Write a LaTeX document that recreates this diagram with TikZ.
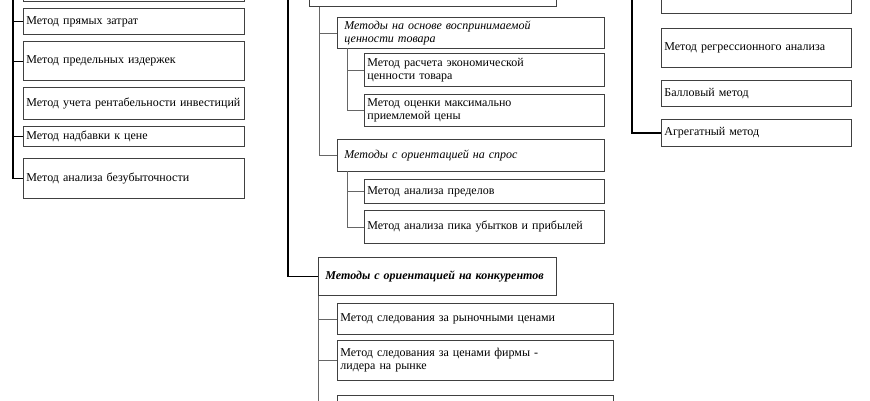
\documentclass[tikz,border=0pt]{standalone}
\usepackage{fontspec}
\setmainfont{Liberation Serif}

\begin{document}
\begin{tikzpicture}[x=1pt,y=-1pt,
  box/.style={draw=black!75, line width=0.8pt, anchor=north west, align=left,
    inner xsep=3pt, inner ysep=0pt, font=\fontsize{12}{13}\selectfont},
  catbox/.style={box, inner xsep=7pt, font=\fontsize{12}{13}\selectfont\itshape},
  trunk/.style={line width=1.6pt},
  twig/.style={line width=0.7pt, black!60}]
\useasboundingbox (0,0) rectangle (870,400);
\clip (0,0) rectangle (870,400);

% left column
\node[box, text width=215pt, minimum height=40pt, anchor=south west] (ltop) at (23,2) {};
\node[box, text width=215pt, minimum height=26pt] (l1) at (23,8) {Метод прямых затрат};
\node[box, text width=215pt, minimum height=39pt] (l2) at (23,41) {Метод предельных издержек};
\node[box, text width=215pt, minimum height=32pt] (l3) at (23,87) {Метод учета рентабельности инвестиций};
\node[box, text width=215pt, minimum height=20pt] (l4) at (23,126) {Метод надбавки к цене};
\node[box, text width=215pt, minimum height=40pt] (l5) at (23,158) {Метод анализа безубыточности};

\coordinate (lroot) at (13,0);
\draw[trunk] (lroot) |- (l5.west);
\foreach \n in {l1,l2,l4}
    \draw[twig, black] (lroot |- \n.west) -- (\n.west);

% middle column
\node[box, text width=241pt, minimum height=40pt, anchor=south west] (mtop) at (309,7) {};
\node[catbox, text width=253pt, minimum height=31pt] (m1) at (337,17) {Методы на основе воспринимаемой\\ценности товара};
\node[box, text width=234pt, minimum height=33pt] (m11) at (364,53) {Метод расчета экономической\\ценности товара};
\node[box, text width=234pt, minimum height=32pt] (m12) at (364,94) {Метод оценки максимально\\приемлемой цены};
\node[catbox, text width=253pt, minimum height=32pt] (m2) at (337,139) {Методы с ориентацией на спрос};
\node[box, text width=234pt, minimum height=24pt] (m21) at (364,179) {Метод анализа пределов};
\node[box, text width=234pt, minimum height=33pt] (m22) at (364,210) {Метод анализа пика убытков и прибылей};
\node[catbox, font=\fontsize{12}{13}\selectfont\bfseries\itshape, text width=224pt, minimum height=38pt] (m3) at (318,257) {Методы с ориентацией на конкурентов};
\node[box, text width=270pt, minimum height=31pt] (m31) at (337,303) {Метод следования за рыночными ценами};
\node[box, text width=270pt, minimum height=40pt] (m32) at (337,340) {Метод следования за ценами фирмы -\\лидера на рынке};
\node[box, text width=270pt, minimum height=30pt] (m33) at (337,395) {};

\coordinate (mroot) at (288,0);
\draw[trunk] (mroot) |- (m3.west);
\coordinate (mv) at (319,7);
\foreach \n in {m1,m2}
    \draw[twig] (mv) |- (\n.west);
\coordinate (m1v) at (347,48);
\foreach \n in {m11,m12}
    \draw[twig] (m1v) |- (\n.west);
\coordinate (m2v) at (347,171);
\foreach \n in {m21,m22}
    \draw[twig] (m2v) |- (\n.west);
\coordinate (m3v) at (m3.south west);
\foreach \n in {m31,m32,m33}
    \draw[twig] (m3v) |- (\n.west);

% right column
\node[box, text width=184pt, minimum height=40pt, anchor=south west] (rtop) at (661,14) {};
\node[box, text width=184pt, minimum height=39pt] (r1) at (661,28) {Метод регрессионного анализа};
\node[box, text width=184pt, minimum height=26pt] (r2) at (661,80) {Балловый метод};
\node[box, text width=184pt, minimum height=27pt] (r3) at (661,119) {Агрегатный метод};

\coordinate (rroot) at (632,0);
\draw[trunk] (rroot) |- (r3.west);

\end{tikzpicture}
\end{document}
